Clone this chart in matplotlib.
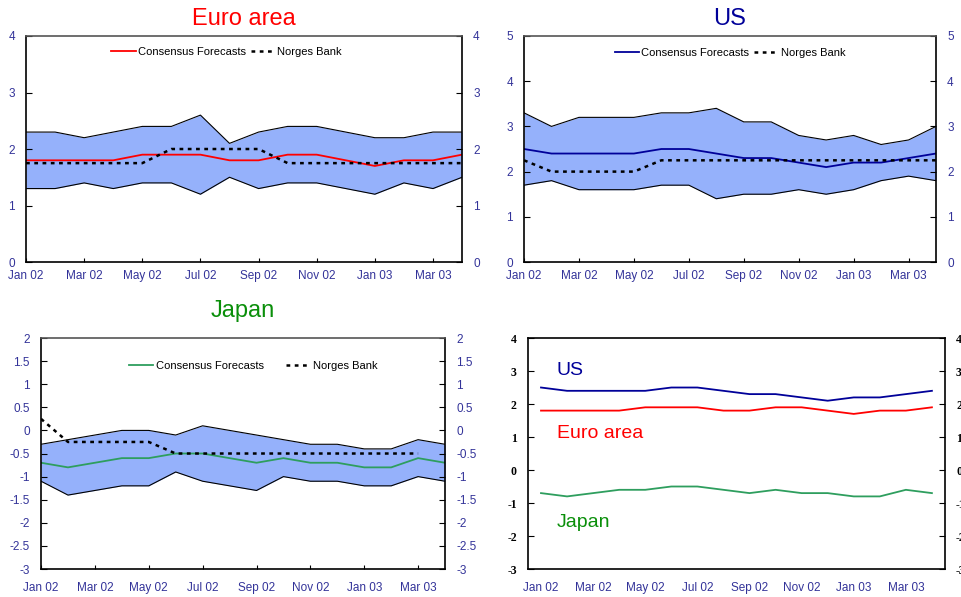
import numpy as np
import matplotlib
matplotlib.use("Agg")
import matplotlib.pyplot as plt

plt.rcParams["font.family"] = ["Liberation Sans", "DejaVu Sans"]
plt.rcParams["axes.unicode_minus"] = False

# ------------------------------------
# Data
# ------------------------------------

months = ["Jan 02", "Feb 02", "Mar 02", "Apr 02", "May 02", "Jun 02",
          "Jul 02", "Aug 02", "Sep 02", "Oct 02", "Nov 02", "Dec 02",
          "Jan 03", "Feb 03", "Mar 03", "Apr 03"]

euro_cons = [1.8, 1.8, 1.8, 1.8, 1.9, 1.9, 1.9, 1.8, 1.8, 1.9, 1.9, 1.8, 1.7, 1.8, 1.8, 1.9]
euro_high = [2.3, 2.3, 2.2, 2.3, 2.4, 2.4, 2.6, 2.1, 2.3, 2.4, 2.4, 2.3, 2.2, 2.2, 2.3, 2.3]
euro_low = [1.3, 1.3, 1.4, 1.3, 1.4, 1.4, 1.2, 1.5, 1.3, 1.4, 1.4, 1.3, 1.2, 1.4, 1.3, 1.5]
euro_nb = [1.75, 1.75, 1.75, 1.75, 1.75, 2.0, 2.0, 2.0, 2.0, 1.75, 1.75, 1.75, 1.75, 1.75, 1.75, 1.75]

us_cons = [2.5, 2.4, 2.4, 2.4, 2.4, 2.5, 2.5, 2.4, 2.3, 2.3, 2.2, 2.1, 2.2, 2.2, 2.3, 2.4]
us_high = [3.3, 3.0, 3.2, 3.2, 3.2, 3.3, 3.3, 3.4, 3.1, 3.1, 2.8, 2.7, 2.8, 2.6, 2.7, 3.0]
us_low = [1.7, 1.8, 1.6, 1.6, 1.6, 1.7, 1.7, 1.4, 1.5, 1.5, 1.6, 1.5, 1.6, 1.8, 1.9, 1.8]
us_nb = [2.25, 2.0, 2.0, 2.0, 2.0, 2.25, 2.25, 2.25, 2.25, 2.25, 2.25, 2.25, 2.25, 2.25, 2.25, 2.25]

japan_cons = [-0.7, -0.8, -0.7, -0.6, -0.6, -0.5, -0.5, -0.6, -0.7, -0.6, -0.7, -0.7, -0.8, -0.8, -0.6, -0.7]
japan_high = [-0.3, -0.2, -0.1, 0.0, 0.0, -0.1, 0.1, 0.0, -0.1, -0.2, -0.3, -0.3, -0.4, -0.4, -0.2, -0.3]
japan_low = [-1.1, -1.4, -1.3, -1.2, -1.2, -0.9, -1.1, -1.2, -1.3, -1.0, -1.1, -1.1, -1.2, -1.2, -1.0, -1.1]
japan_nb = [0.25, -0.25, -0.25, -0.25, -0.25, -0.5, -0.5, -0.5, -0.5, -0.5, -0.5, -0.5, -0.5, -0.5, -0.5, np.nan]

# ------------------------------------
# Styles
# ------------------------------------

tick_color = "#333399"
band_color = "#95B1FB"
red = "#FF0000"
navy = "#000099"
green_line = "#2E9E5E"
green_text = "#0A8F0A"

x = np.arange(len(months))
tick_pos = x[::2]
tick_lab = months[::2]

fig = plt.figure(figsize=(9.61, 5.97), dpi=100)


# ------------------------------------
# Band panel
# ------------------------------------

def band_panel(rect, cons, high, low, nb, color, title, title_color,
               ylim, yticks, ylabels, leg_x, leg_y, colspace, xpad, tpad):

    ax = fig.add_axes(rect)

    ax.fill_between(x, low, high, color=band_color, lw=0)
    ax.plot(x, high, color="black", lw=0.8)
    ax.plot(x, low, color="black", lw=0.8)
    ax.plot(x, cons, color=color, lw=1.3, label="Consensus Forecasts")
    ax.plot(x, nb, color="black", lw=1.8, linestyle=(0, (1.5, 1.8)),
            label="Norges Bank")

    ax.set_xlim(0, 15)
    ax.set_ylim(*ylim)
    ax.set_xticks(tick_pos)
    ax.set_xticklabels(tick_lab)
    ax.set_yticks(yticks)
    ax.set_yticklabels(ylabels)

    ax.tick_params(axis="y", direction="in", left=True, right=True,
                   labelleft=True, labelright=True, length=4,
                   labelsize=8.5, labelcolor=tick_color, pad=8)
    ax.tick_params(axis="x", direction="in", length=3, labelsize=8.5,
                   labelcolor=tick_color, pad=xpad)

    for s in ax.spines.values():
        s.set_linewidth(1.2)
    ax.spines["top"].set_color("#555555")

    ax.legend(loc="center", bbox_to_anchor=(leg_x, leg_y), ncol=2,
              frameon=False, fontsize=8, handlelength=2.2,
              handletextpad=0.2, columnspacing=colspace)

    ax.set_title(title, color=title_color, fontsize=17, pad=tpad)

    return ax


band_panel([0.0271, 0.5611, 0.4537, 0.3786], euro_cons, euro_high, euro_low,
           euro_nb, red, "Euro area", red, (0, 4), [0, 1, 2, 3, 4],
           ["0", "1", "2", "3", "4"], 0.46, 0.93, 0.4, 6, 8)

band_panel([0.5453, 0.5611, 0.4287, 0.3786], us_cons, us_high, us_low,
           us_nb, navy, "US", navy, (0, 5), [0, 1, 2, 3, 4, 5],
           ["0", "1", "2", "3", "4", "5"], 0.50, 0.925, 0.4, 6, 8)

jy = np.arange(-3, 2.01, 0.5)
jl = ["%g" % v for v in jy]
band_panel([0.0427, 0.0469, 0.4204, 0.3869], japan_cons, japan_high,
           japan_low, japan_nb, green_line, "Japan", green_text, (-3, 2),
           jy, jl, 0.525, 0.88, 2.0, 9, 15)

# ------------------------------------
# Comparison panel
# ------------------------------------

ax4 = fig.add_axes([0.5494, 0.0469, 0.4339, 0.3869])

ax4.plot(x, us_cons, color=navy, lw=1.3)
ax4.plot(x, euro_cons, color=red, lw=1.3)
ax4.plot(x, japan_cons, color=green_line, lw=1.3)

ax4.text(0.6, 3.03, "US", color=navy, fontsize=14, va="center")
ax4.text(0.6, 1.12, "Euro area", color=red, fontsize=14, va="center")
ax4.text(0.6, -1.58, "Japan", color=green_text, fontsize=14, va="center")

ax4.set_xlim(-0.5, 15.5)
ax4.set_ylim(-3, 4)
ax4.set_xticks(tick_pos)
ax4.set_xticklabels(tick_lab)
ax4.set_yticks(range(-3, 5))

ax4.tick_params(axis="x", length=0, labelsize=8.5, labelcolor=tick_color,
                pad=9)
ax4.tick_params(axis="y", direction="in", left=True, right=True,
                labelleft=True, labelright=True, length=4, pad=8)
for lab in ax4.get_yticklabels():
    lab.set_fontfamily("Liberation Serif")
    lab.set_fontweight("bold")
    lab.set_fontsize(8.5)

for s in ax4.spines.values():
    s.set_linewidth(1.2)

fig.savefig("out.png", dpi=100)
plt.close()
